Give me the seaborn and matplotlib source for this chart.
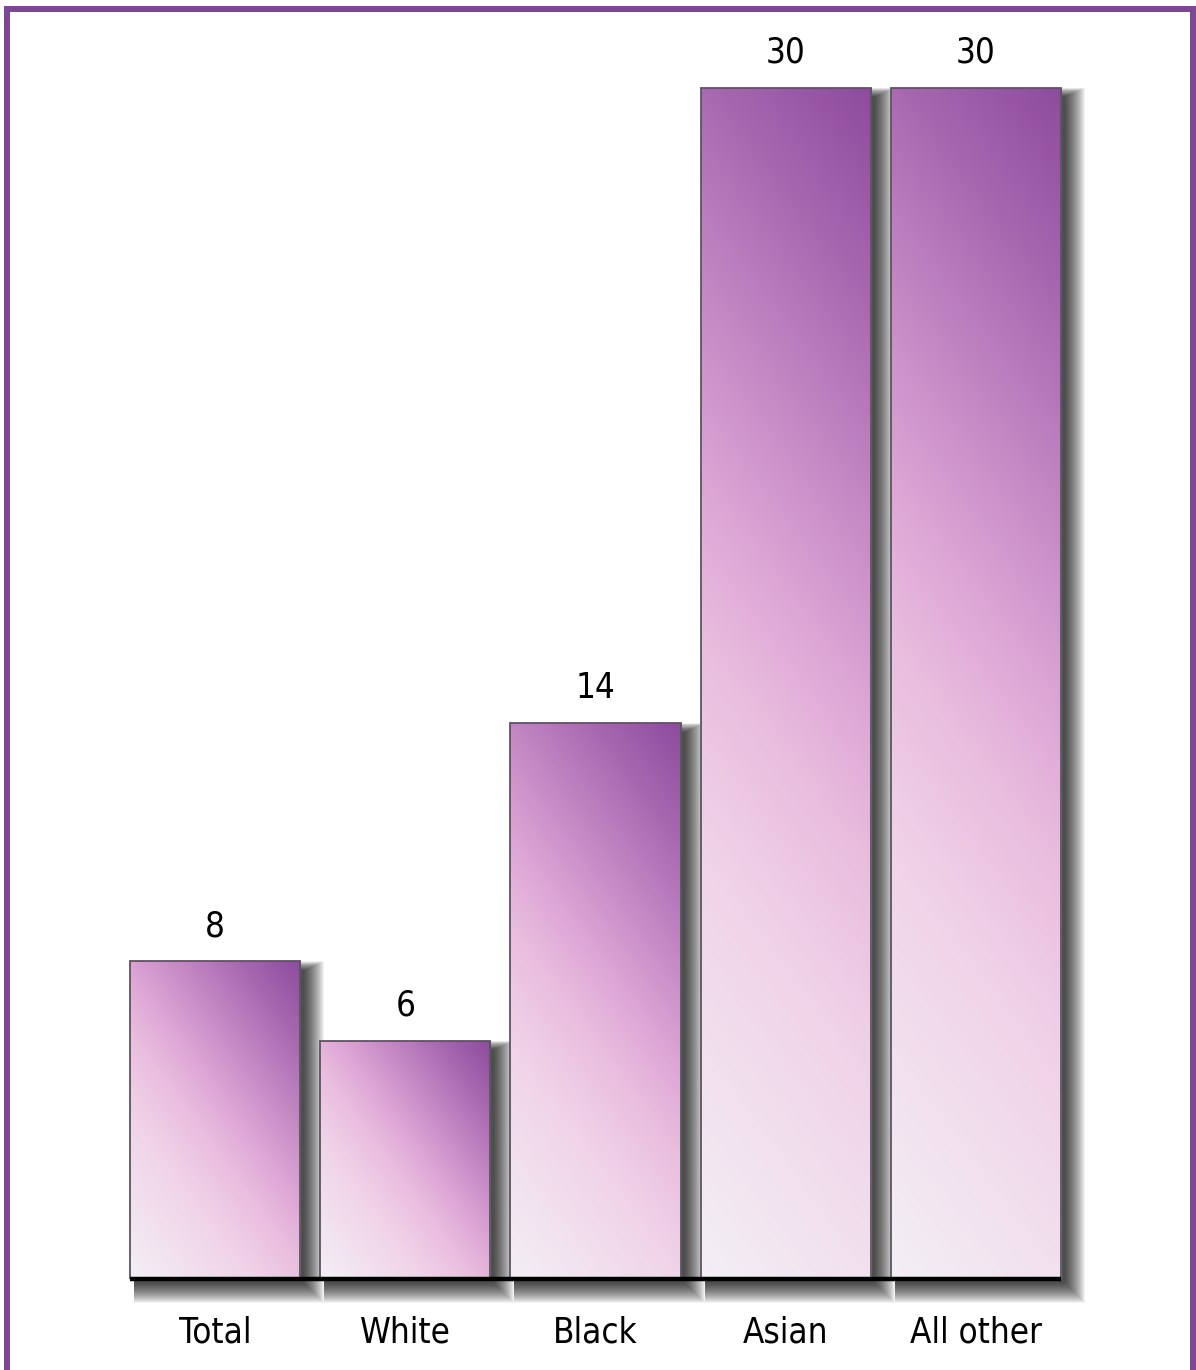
import numpy as np
import pandas as pd
import matplotlib
matplotlib.use("Agg")
import matplotlib.pyplot as plt
from matplotlib.colors import LinearSegmentedColormap
from matplotlib.patches import Rectangle
from matplotlib.lines import Line2D
import seaborn as sns

# chart data
categories = ["Total", "White", "Black", "Asian", "All other"]
values = [8, 6, 14, 30, 30]

df = pd.DataFrame({"group": categories, "value": values})

sns.set_style("white")
plt.rcParams["font.family"] = ["Liberation Sans Narrow", "DejaVu Sans"]
plt.rcParams["font.stretch"] = "condensed"

W, H, DPI = 1196, 1370, 100
fig = plt.figure(figsize=(W / DPI, H / DPI), dpi=DPI)
# axes placed so that the baseline sits near the bottom like the original
ax = fig.add_axes([120 / W, (H - 1279) / H, 951 / W, 1231 / H])

sns.barplot(data=df, x="group", y="value", ax=ax, width=0.895,
            facecolor="none", edgecolor="#5a5560", linewidth=1.3, zorder=4)
ax.set_xlim(-0.5, len(categories) - 0.5)
ax.set_ylim(0, 31)
sns.despine(ax=ax, left=True, bottom=True)
ax.set_yticks([])
ax.set_xlabel("")
ax.set_ylabel("")
ax.tick_params(axis="x", length=0, pad=26, labelsize=25, labelcolor="black")
for lab in ax.get_xticklabels():
    lab.set_fontstretch("condensed")

grad = LinearSegmentedColormap.from_list("bar_grad", [
    (0.0, "#f3eff5"),
    (0.3, "#f0d3e8"),
    (0.45, "#e9bdde"),
    (0.55, "#dea8d6"),
    (0.7, "#c488c4"),
    (0.85, "#a868b0"),
    (1.0, "#8e4c9e"),
])

# pixel size of one data unit
px_x = ax.transData.transform((1, 0))[0] - ax.transData.transform((0, 0))[0]
px_y = ax.transData.transform((0, 1))[1] - ax.transData.transform((0, 0))[1]

for bar, val in zip(ax.patches, values):
    x0, w, h = bar.get_x(), bar.get_width(), bar.get_height()
    wpx, hpx = w * px_x, h * px_y

    # soft drop shadow, spreading to the right and downwards
    for k in range(20, -1, -1):
        bottom = (-4 - k) / px_y
        top = h + (-9 + 0.45 * k) / px_y
        shadow = Rectangle((x0 + 4 / px_x, bottom),
                           w + k / px_x, top - bottom,
                           facecolor="black", edgecolor="none",
                           alpha=0.05, zorder=1, clip_on=False)
        ax.add_patch(shadow)

    # diagonal gradient fill clipped to the bar
    u, v = np.meshgrid(np.linspace(0, 1, 60), np.linspace(0, 1, 200))
    c = 1.35
    t = (v * hpx + u * wpx * c) / (hpx + wpx * c)
    im = ax.imshow(t, cmap=grad, vmin=0, vmax=1, origin="lower",
                   extent=(x0, x0 + w, 0, h), aspect="auto",
                   interpolation="bilinear", zorder=3)
    im.set_clip_path(bar)

    ax.annotate(f"{val}", (x0 + w / 2, h), xytext=(0, 13),
                textcoords="offset points", ha="center", va="bottom",
                fontsize=25, fontstretch="condensed", color="black")

ax.set_xlim(-0.5, len(categories) - 0.5)
ax.set_ylim(0, 31)

# black baseline under the bars
left = ax.patches[0].get_x()
right = ax.patches[len(values) - 1].get_x() + ax.patches[len(values) - 1].get_width()
ax.plot([left, right], [0, 0], color="black", linewidth=3.2,
        solid_capstyle="butt", zorder=5, clip_on=False)

# purple frame (open at the bottom)
frame = "#7e4696"
lw = 6 * 72 / DPI
fig.add_artist(Line2D([7 / W, 7 / W], [0, 1 - 6 / H], color=frame, lw=lw,
                      transform=fig.transFigure, solid_capstyle="butt"))
fig.add_artist(Line2D([4 / W, 1], [1 - 8.5 / H, 1 - 8.5 / H], color=frame, lw=lw,
                      transform=fig.transFigure, solid_capstyle="butt"))
fig.add_artist(Line2D([1 - 3 / W, 1 - 3 / W], [0, 1 - 6 / H], color=frame, lw=lw,
                      transform=fig.transFigure, solid_capstyle="butt"))

fig.savefig("out.png", dpi=DPI, facecolor="white")
